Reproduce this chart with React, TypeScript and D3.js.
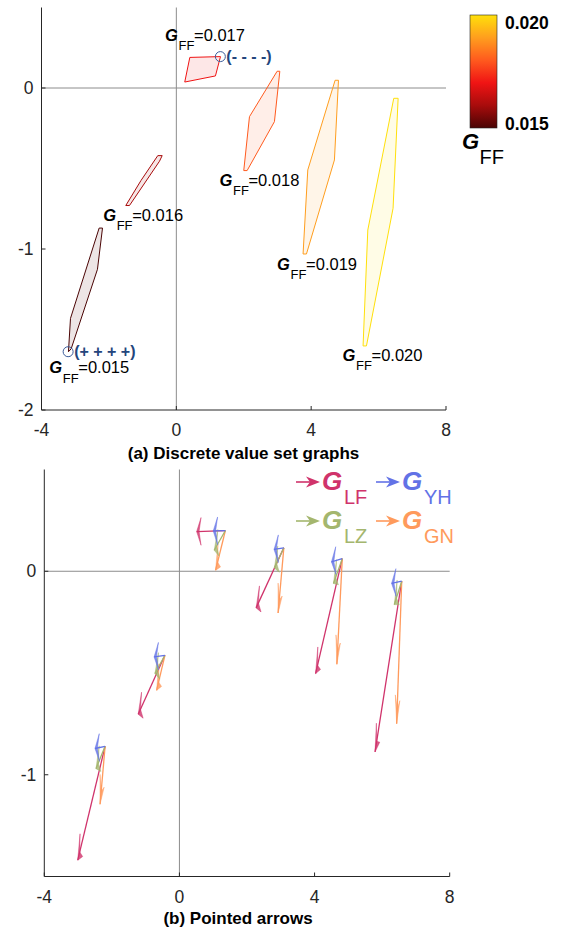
import React from 'react';
import * as d3 from 'd3';

// ---------- data ----------
const gffValues = [0.015, 0.016, 0.017, 0.018, 0.019, 0.02];
const gffLabels = ['0.015', '0.016', '0.017', '0.018', '0.019', '0.020'];

// polygon vertices, top panel (data units)
const polyX = [
  [-2.29, -2.19, -2.34, -3.12, -3.2, -3.14],
  [-0.55, -0.42, -0.5, -1.39, -1.5, -1.05],
  [0.4, 1.31, 1.16, 0.25],
  [2.99, 3.07, 2.91, 2.1, 2.0, 2.17],
  [4.71, 4.81, 4.69, 3.86, 3.76, 3.9],
  [6.45, 6.58, 6.43, 5.64, 5.54, 5.68],
];
const polyY = [
  [-0.87, -0.87, -1.126, -1.62, -1.638, -1.431],
  [-0.42, -0.42, -0.455, -0.73, -0.73, -0.575],
  [0.19, 0.195, 0.075, 0.037],
  [0.104, 0.104, -0.209, -0.513, -0.513, -0.178],
  [0.048, 0.048, -0.447, -1.031, -1.031, -0.509],
  [-0.064, -0.064, -0.747, -1.602, -1.602, -0.882],
];
// label anchors (data units)
const labelX = [-3.77, -2.17, -0.335, 1.28, 2.99, 4.93];
const labelY = [-1.772, -0.824, 0.294, -0.609, -1.13, -1.696];

// marked corners
const markX = [-3.21, 1.306];
const markY = [-1.638, 0.195];
const markText = ['(+ + + +)', '(- - - -)'];

// arrows, bottom panel
const originX = [-2.2, -0.43, 1.36, 3.09, 4.82, 6.58];
const originY = [-0.86, -0.413, 0.2, 0.115, 0.062, -0.049];
const lfTipX = [-3.01, -1.22, 0.51, 2.27, 4.03, 5.79];
const lfTipY = [-1.42, -0.703, 0.195, -0.18, -0.503, -0.888];
const yhTipX = [-2.5, -0.75, 1.0, 2.8, 4.5, 6.28];
const yhTipY = [-0.871, -0.421, 0.198, 0.107, 0.046, -0.06];
const lzTipX = [-2.47, -0.725, 1.03, 2.81, 4.56, 6.36];
const lzTipY = [-0.97, -0.503, 0.103, 0.016, -0.06, -0.164];
const gnTipX = [-2.35, -0.675, 1.07, 2.92, 4.66, 6.43];
const gnTipY = [-1.145, -0.585, 0.005, -0.205, -0.457, -0.749];

const seriesNames = ['LF', 'YH', 'LZ', 'GN'];
const seriesColors = ['#d0336b', '#6272e6', '#a4b66e', '#ff9a5c'];

const xTicks = [-4, 0, 4, 8];
const yTicksTop = [-2, -1, 0];
const yTicksBottom = [-1, 0];

// colormap for G_FF
const cmapStops = [0.015, 0.016, 0.017, 0.018, 0.019, 0.02];
const cmapColors = ['#4a0404', '#a80c0c', '#f01414', '#ff5a1e', '#ff9e1e', '#ffe00a'];

// ---------- layout ----------
const FONT = 'Liberation Sans, Arial, Helvetica, sans-serif';
const AX = '#262626';
const GRID = '#8c8c8c';

const xTop = d3.scaleLinear().domain([-4, 8]).range([41.5, 446]);
const yTop = d3.scaleLinear().domain([-2, 0.5]).range([410, 7.5]);
const xBot = d3.scaleLinear().domain([-4, 8]).range([44.3, 449.7]);
const yBot = d3.scaleLinear().domain([-1.5, 0.5]).range([876.5, 469.5]);

const cmap = d3.scaleLinear<string>().domain(cmapStops).range(cmapColors);

function headPath(x0: number, y0: number, x1: number, y1: number) {
  const dx = x1 - x0, dy = y1 - y0;
  const len = Math.hypot(dx, dy);
  const ux = dx / len, uy = dy / len;
  const nx = -uy, ny = ux;
  const L = 0.13, W = 0.068;
  const pts: [number, number][] = [
    [x1, y1],
    [x1 - L * ux + W * nx, y1 - L * uy + W * ny],
    [x1 - 0.55 * L * ux, y1 - 0.55 * L * uy],
    [x1 - L * ux - W * nx, y1 - L * uy - W * ny],
  ];
  return (d3.line()(pts.map(([a, b]) => [xBot(a), yBot(b)])) || '') + 'Z';
}

function Axes({ xs, ys, yTicks }: any) {
  const [x0, x1] = xs.range();
  const [yb, yt] = ys.range();
  return (
    <g>
      <line x1={xs(0)} x2={xs(0)} y1={yt} y2={yb} stroke={GRID} strokeWidth={1} />
      <line x1={x0} x2={x1} y1={ys(0)} y2={ys(0)} stroke={GRID} strokeWidth={1} />
      <line x1={x0} x2={x0} y1={yt} y2={yb} stroke={AX} strokeWidth={1} />
      <line x1={x0} x2={x1} y1={yb} y2={yb} stroke={AX} strokeWidth={1} />
      {xTicks.map((t) => (
        <g key={'x' + t}>
          <line x1={xs(t)} x2={xs(t)} y1={yb} y2={yb - 4} stroke={AX} />
          <text x={xs(t)} y={yb + 26} textAnchor="middle" fontSize={17.5} fill={AX} fontFamily={FONT}>
            {t}
          </text>
        </g>
      ))}
      {yTicks.map((t: number) => (
        <g key={'y' + t}>
          <line x1={x0} x2={x0 + 4} y1={ys(t)} y2={ys(t)} stroke={AX} />
          <text x={x0 - 8} y={ys(t) + 6} textAnchor="end" fontSize={17.5} fill={AX} fontFamily={FONT}>
            {t}
          </text>
        </g>
      ))}
    </g>
  );
}

function GLabel({ x, y, sub, value, size, subSize, subDx, subDy, valDx, color }: any) {
  return (
    <g fontFamily={FONT} fill={color}>
      <text x={x} y={y} fontSize={size} fontWeight="bold" fontStyle="italic">G</text>
      <text x={x + subDx} y={y + subDy} fontSize={subSize}>{sub}</text>
      {value != null && (
        <text x={x + valDx} y={y} fontSize={size}>{value}</text>
      )}
    </g>
  );
}

export default function App() {
  const tips = [
    [lfTipX, lfTipY],
    [yhTipX, yhTipY],
    [lzTipX, lzTipY],
    [gnTipX, gnTipY],
  ];
  const drawOrder = [0, 3, 2, 1];
  const legendPos = [
    [296, 482],
    [376, 482],
    [296, 521],
    [376, 521],
  ];
  return (
    <svg width={565} height={933} style={{ position: 'absolute', left: 0, top: 0, background: '#fff' }}>
      <defs>
        <linearGradient id="cbar" x1="0" y1="1" x2="0" y2="0">
          {cmapStops.map((s, i) => (
            <stop key={i} offset={(s - 0.015) / 0.005} stopColor={cmapColors[i]} />
          ))}
        </linearGradient>
      </defs>

      {/* ---------- panel (a) ---------- */}
      <Axes xs={xTop} ys={yTop} yTicks={yTicksTop} />
      {gffValues.map((g, i) => {
        const pts = polyX[i].map((x, j) => [xTop(x), yTop(polyY[i][j])] as [number, number]);
        const c = cmap(g);
        return (
          <path key={'p' + i} d={(d3.line()(pts) || '') + 'Z'} fill={c} fillOpacity={0.1}
            stroke={c} strokeWidth={1} strokeLinejoin="round" />
        );
      })}
      {gffValues.map((g, i) => (
        <GLabel key={'l' + i} x={xTop(labelX[i])} y={yTop(labelY[i])} sub="FF" value={'=' + gffLabels[i]}
          size={16.5} subSize={13} subDx={13.5} subDy={9.3} valDx={29} color="#000" />
      ))}
      {markX.map((mx, i) => (
        <g key={'m' + i}>
          <circle cx={xTop(mx)} cy={yTop(markY[i])} r={5} fill="none" stroke="#3b5c9a" strokeWidth={1} />
          <text x={xTop(mx) + 6} y={yTop(markY[i]) + 5} fontSize={16} fontWeight="bold" fill="#24457c"
            fontFamily={FONT}>
            {markText[i]}
          </text>
        </g>
      ))}

      {/* colorbar */}
      <rect x={470} y={15} width={27} height={113} fill="url(#cbar)" stroke={AX} strokeWidth={0.6} />
      <text x={505} y={28.5} fontSize={17.5} fontWeight="bold" fill="#000" fontFamily={FONT}>0.020</text>
      <text x={505} y={129.5} fontSize={17.5} fontWeight="bold" fill="#000" fontFamily={FONT}>0.015</text>
      <GLabel x={462} y={149} sub="FF" size={22} subSize={20} subDx={17.5} subDy={15} color="#000" />

      <text x={243.5} y={459} textAnchor="middle" fontSize={17} fontWeight="bold" fill="#000" fontFamily={FONT}>
        (a) Discrete value set graphs
      </text>

      {/* ---------- panel (b) ---------- */}
      <Axes xs={xBot} ys={yBot} yTicks={yTicksBottom} />
      {originX.map((ox, i) =>
        drawOrder.map((s) => {
          const tx = tips[s][0][i];
          const ty = tips[s][1][i];
          const oy = originY[i];
          return (
            <g key={'a' + i + s}>
              <line x1={xBot(ox)} y1={yBot(oy)} x2={xBot(tx)} y2={yBot(ty)} stroke={seriesColors[s]}
                strokeWidth={1.3} />
              <path d={headPath(ox, oy, tx, ty)} fill={seriesColors[s]} fillOpacity={0.8}
                stroke={seriesColors[s]} strokeOpacity={0.6} strokeWidth={0.8} />
            </g>
          );
        })
      )}

      {/* legend */}
      {seriesNames.map((n, s) => {
        const [lx, ly] = legendPos[s];
        const c = seriesColors[s];
        return (
          <g key={'lg' + s}>
            <line x1={lx} x2={lx + 20} y1={ly} y2={ly} stroke={c} strokeWidth={1.6} />
            <path d={`M${lx + 24},${ly} L${lx + 10},${ly - 5.5} L${lx + 14},${ly} L${lx + 10},${ly + 5.5} Z`}
              fill={c} />
            <GLabel x={lx + 26} y={ly + 8} sub={n} size={26} subSize={20} subDx={22} subDy={13.5} color={c} />
          </g>
        );
      })}

      <text x={238} y={924} textAnchor="middle" fontSize={17} fontWeight="bold" fill="#000" fontFamily={FONT}>
        (b) Pointed arrows
      </text>
    </svg>
  );
}
